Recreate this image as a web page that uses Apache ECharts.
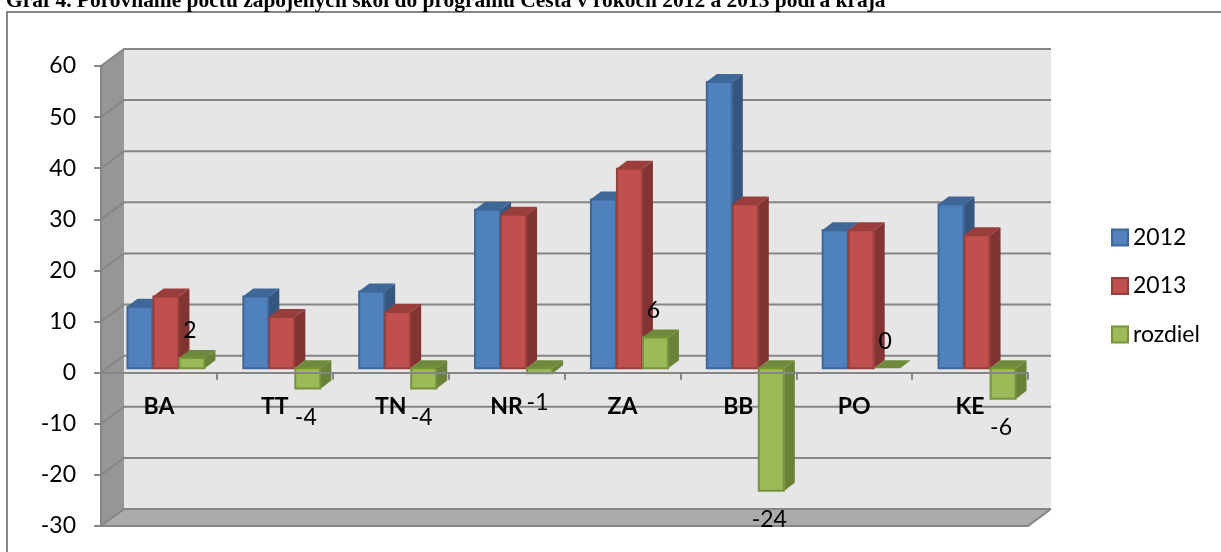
<!DOCTYPE html>
<html><head><meta charset="utf-8">
<style>html,body{margin:0;padding:0;background:#fff;overflow:hidden}#c{width:1221px;height:552px}</style>
<script src="https://cdn.jsdelivr.net/npm/echarts@6/dist/echarts.min.js"></script>
</head><body><div id="c"></div>
<script>
const categories = ['BA','TT','TN','NR','ZA','BB','PO','KE'];
const values2012 = [12,14,15,31,33,56,27,32];
const values2013 = [14,10,11,30,39,32,27,26];
const valuesDiff = [2,-4,-4,-1,6,-24,0,-6];
const yTicks = [60,50,40,30,20,10,0,-10,-20,-30];
const titleText = 'Graf 4. Porovnanie počtu zapojených škôl do programu Cesta v rokoch 2012 a 2013 podľa kraja';

const FONT = 'Lato';
const LINE = '#868686';
const WALL_DX = 23, WALL_DY = -17;
const BAR_DX = 10.5, BAR_DY = -8, BASE_DY = -4.5;
const styles = [
  {front:'#4f81bd', border:'#3f6797', side:'#35577f', top:'#3f6797'},
  {front:'#c0504d', border:'#973f3d', side:'#823432', top:'#993e3c'},
  {front:'#9bbb59', border:'#76923c', side:'#6a8237', top:'#6f8a3c'}
];

function wallItem(params, api){
  const lt = api.coord([0, 60]), rb = api.coord([categories.length-1, -30]);
  const band = api.size([1,0])[0];
  const xL = lt[0]-band/2, xR = rb[0]+band/2, yT = lt[1], yB = rb[1];
  const c = [];
  c.push({type:'rect',shape:{x:xL+WALL_DX,y:yT+WALL_DY,width:xR-xL,height:yB-yT},style:{fill:'#e6e6e6'}});
  c.push({type:'polygon',shape:{points:[[xL,yT],[xL+WALL_DX,yT+WALL_DY],[xL+WALL_DX,yB+WALL_DY],[xL,yB]]},style:{fill:'#969696'}});
  c.push({type:'polygon',shape:{points:[[xL,yB],[xL+WALL_DX,yB+WALL_DY],[xR+WALL_DX,yB+WALL_DY],[xR,yB]]},style:{fill:'#ababab'}});
  yTicks.forEach(t=>{
    const y = api.coord([0,t])[1];
    c.push({type:'polyline',shape:{points:[[xL,y],[xL+WALL_DX,y+WALL_DY],[xR+WALL_DX,y+WALL_DY]]},style:{fill:null,stroke:LINE,lineWidth:2}});
  });
  c.push({type:'polyline',shape:{points:[[xL,yB],[xR,yB],[xR+WALL_DX,yB+WALL_DY]]},style:{fill:null,stroke:LINE,lineWidth:2}});
  return {type:'group',children:c};
}

function barItem(idx, withLabel){
  return function(params, api){
    const cat = api.value(0), v = api.value(1);
    const st = styles[idx];
    const cx = api.coord([cat,0])[0];
    const w = 26;
    const x0 = cx - 32 + idx*w, x1 = x0 + w;
    const y0 = api.coord([cat,0])[1] + BASE_DY;
    const yv = api.coord([cat,v])[1] + BASE_DY;
    const yTop = Math.min(y0,yv), yBot = Math.max(y0,yv);
    const c = [];
    c.push({type:'polygon',shape:{points:[[x1,yTop],[x1+BAR_DX,yTop+BAR_DY],[x1+BAR_DX,yBot+BAR_DY],[x1,yBot]]},style:{fill:st.side}});
    c.push({type:'polygon',shape:{points:[[x0,yTop],[x0+BAR_DX,yTop+BAR_DY],[x1+BAR_DX,yTop+BAR_DY],[x1,yTop]]},style:{fill:st.top}});
    if (v !== 0) c.push({type:'rect',shape:{x:x0+0.5,y:yTop,width:w-1,height:yBot-yTop},style:{fill:st.front,stroke:st.border,lineWidth:2}});
    if (withLabel){
      const ly = v >= 0 ? yTop-27 : yBot+29;
      c.push({type:'text',z2:50,style:{text:String(v),x:cx+31,y:ly,align:'center',verticalAlign:'middle',font:'23px '+FONT,fill:'#000'}});
    }
    return {type:'group',children:c};
  };
}
function pairs(a){return a.map((v,i)=>[i,v]);}

const chart = echarts.init(document.getElementById('c'),null,{renderer:'canvas'});
chart.setOption({
  animation:false,
  backgroundColor:'#fff',
  title:{text:titleText,left:6,top:-9,padding:0,textStyle:{fontFamily:'Liberation Serif',fontWeight:'bold',fontSize:21.45,color:'#000'}},
  grid:{left:101,top:66,width:927,height:460,containLabel:false,outerBoundsMode:'none'},
  legend:{orient:'vertical',left:1111,top:226,padding:0,itemWidth:16,itemHeight:16,itemGap:25.5,icon:'rect',selectedMode:false,
    textStyle:{fontFamily:FONT,fontSize:23,color:'#000'},
    data:[
      {name:'2012',itemStyle:{color:styles[0].front,borderColor:styles[0].border,borderWidth:2}},
      {name:'2013',itemStyle:{color:styles[1].front,borderColor:styles[1].border,borderWidth:2}},
      {name:'rozdiel',itemStyle:{color:styles[2].front,borderColor:styles[2].border,borderWidth:2}}
    ]},
  xAxis:{type:'category',data:categories,z:10,
    axisLine:{onZero:true,lineStyle:{color:LINE,width:2}},
    axisTick:{show:true,length:7,inside:false,alignWithLabel:false,lineStyle:{color:LINE,width:2}},
    axisLabel:{show:true,interval:0,margin:-131,fontFamily:FONT,fontWeight:'bold',fontSize:23,color:'#000'},
    splitLine:{show:false}},
  yAxis:{type:'value',min:-30,max:60,interval:10,z:10,
    axisLine:{show:true,onZero:false,lineStyle:{color:LINE,width:2}},
    axisTick:{show:true,length:7,lineStyle:{color:LINE,width:2}},
    axisLabel:{margin:25,padding:[3,0,0,0],fontFamily:FONT,fontSize:23,color:'#000'},
    splitLine:{show:false}},
  graphic:[{type:'polyline',silent:true,z:-1,shape:{points:[[7,552],[7,12],[1221,12]]},style:{fill:null,stroke:LINE,lineWidth:2}}],
  series:[
    {type:'custom',name:'wall',z:1,silent:true,renderItem:wallItem,data:[[0,0]],encode:{x:0,y:1},legendHoverLink:false},
    {type:'custom',name:'2012',z:2,renderItem:barItem(0,false),data:pairs(values2012),encode:{x:0,y:1},itemStyle:{color:styles[0].front}},
    {type:'custom',name:'2013',z:3,renderItem:barItem(1,false),data:pairs(values2013),encode:{x:0,y:1},itemStyle:{color:styles[1].front}},
    {type:'custom',name:'rozdiel',z:4,renderItem:barItem(2,true),data:pairs(valuesDiff),encode:{x:0,y:1},itemStyle:{color:styles[2].front}}
  ]
});
</script></body></html>
